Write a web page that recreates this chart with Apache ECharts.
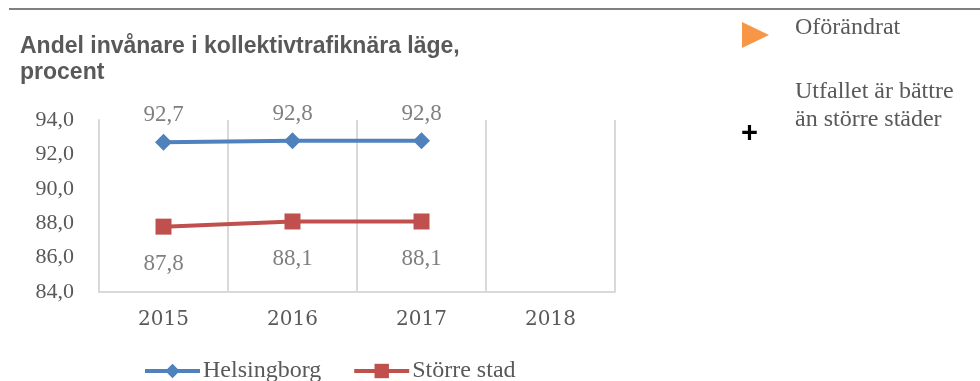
<!DOCTYPE html>
<html>
<head>
<meta charset="utf-8">
<script src="https://cdn.jsdelivr.net/npm/echarts@6/dist/echarts.min.js"></script>
<style>
  html, body { margin: 0; padding: 0; background: #ffffff; }
  #chart { width: 980px; height: 381px; }
</style>
</head>
<body>
<div id="chart"></div>
<script>
// Years on the category axis
const years = ['2015', '2016', '2017', '2018'];
// Share of residents living close to public transport, percent
const helsingborg = [92.7, 92.8, 92.8, null];
const storreStad = [87.8, 88.1, 88.1, null];
// Value axis range
const yMin = 84;
const yMax = 94;
const yStep = 2;

const serif = '"Liberation Serif", "DejaVu Serif", serif';
const wideSerif = '"DejaVu Serif", "Liberation Serif", serif';
const sans = '"Liberation Sans", Arial, sans-serif';
const fmt = v => v.toFixed(1).replace('.', ',');

const chart = echarts.init(document.getElementById('chart'), null, { renderer: 'canvas' });

chart.setOption({
  backgroundColor: '#ffffff',
  animation: false,
  grid: { left: 99, right: 365, top: 120, bottom: 89, containLabel: false },
  legend: {
    top: 354,
    left: 138,
    itemWidth: 55,
    itemHeight: 18,
    itemGap: 31,
    lineStyle: { width: 4 },
    textStyle: { fontFamily: serif, fontSize: 24, color: '#595959', padding: [0, 0, 0, -2] },
    data: ['Helsingborg', 'Större stad']
  },
  xAxis: {
    type: 'category',
    data: years,
    boundaryGap: true,
    axisLine: { show: true, lineStyle: { color: '#d9d9d9', width: 2 } },
    axisTick: { show: false },
    splitLine: { show: true, lineStyle: { color: '#d9d9d9', width: 2 } },
    axisLabel: {
      fontFamily: wideSerif,
      fontSize: 20,
      color: '#595959',
      margin: 18
    }
  },
  yAxis: {
    type: 'value',
    min: yMin,
    max: yMax,
    interval: yStep,
    axisLine: { show: true, lineStyle: { color: '#d9d9d9', width: 2 } },
    axisTick: { show: false },
    splitLine: { show: false },
    axisLabel: {
      fontFamily: serif,
      fontSize: 22,
      color: '#595959',
      margin: 25,
      formatter: v => fmt(v)
    }
  },
  series: [
    {
      name: 'Helsingborg',
      type: 'line',
      data: helsingborg,
      symbol: 'diamond',
      symbolSize: 17,
      lineStyle: { color: '#4f81bd', width: 4 },
      itemStyle: { color: '#4f81bd' },
      label: {
        show: true,
        position: 'top',
        distance: 7,
        fontFamily: serif,
        fontSize: 23,
        color: '#7f7f7f',
        formatter: p => fmt(p.value)
      }
    },
    {
      name: 'Större stad',
      type: 'line',
      data: storreStad,
      symbol: 'rect',
      symbolSize: 16,
      lineStyle: { color: '#c0504d', width: 4 },
      itemStyle: { color: '#c0504d' },
      label: {
        show: true,
        position: 'bottom',
        distance: 18,
        fontFamily: serif,
        fontSize: 23,
        color: '#7f7f7f',
        formatter: p => fmt(p.value)
      }
    }
  ],
  graphic: [
    {
      type: 'line',
      shape: { x1: 9, y1: 9, x2: 980, y2: 9 },
      style: { stroke: '#808080', lineWidth: 2 }
    },
    {
      type: 'text',
      x: 20,
      y: 34,
      style: {
        text: 'Andel invånare i kollektivtrafiknära läge,\nprocent',
        font: 'bold 23px ' + sans,
        fill: '#595959',
        lineHeight: 26
      }
    },
    {
      type: 'polygon',
      shape: { points: [[742, 22], [769, 35], [742, 48]] },
      style: { fill: '#f79646' }
    },
    {
      type: 'text',
      left: 795,
      top: 16,
      style: { text: 'Oförändrat', font: '24px ' + serif, fill: '#595959' }
    },
    {
      type: 'text',
      left: 795,
      top: 78,
      style: {
        text: 'Utfallet är bättre\nän större städer',
        font: '24px ' + serif,
        fill: '#595959',
        lineHeight: 28
      }
    },
    {
      type: 'text',
      left: 741,
      top: 119,
      style: { text: '+', font: 'bold 29px ' + sans, fill: '#000000' }
    }
  ]
});
</script>
</body>
</html>
